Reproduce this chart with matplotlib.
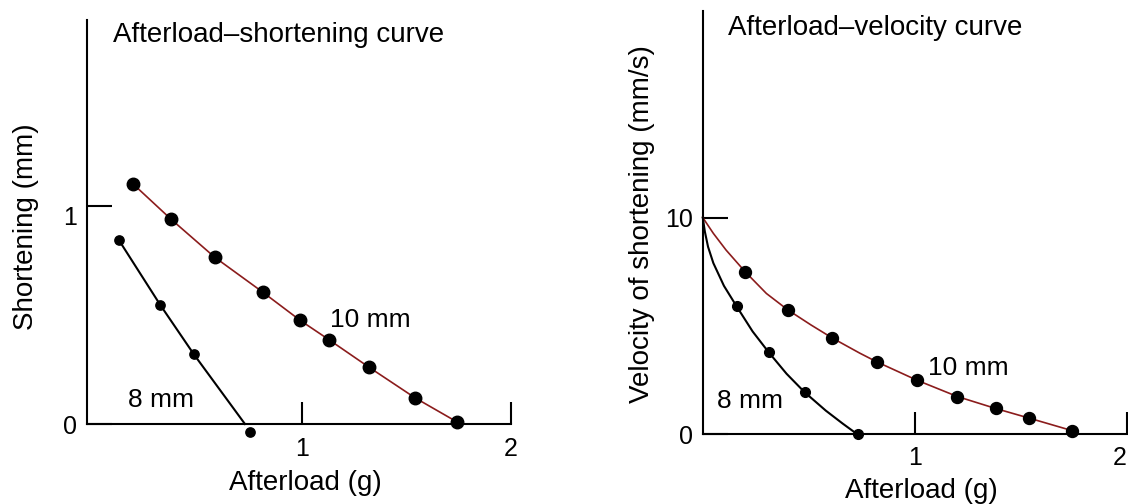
import matplotlib.pyplot as plt

plt.rcParams['font.family'] = ['Liberation Sans', 'DejaVu Sans']

# Afterload-shortening (left panel)
short_10_x = [0.19, 0.37, 0.58, 0.81, 0.99, 1.13, 1.32, 1.54, 1.74]
short_10_y = [1.10, 0.94, 0.765, 0.605, 0.475, 0.385, 0.26, 0.12, 0.01]
short_8_x = [0.12, 0.32, 0.48, 0.75]
short_8_y = [0.845, 0.545, 0.32, -0.035]
# the 8 mm line stops where it hits the axis, last dot sits a bit below it
short_8_line_x = [0.12, 0.32, 0.48, 0.725]
short_8_line_y = [0.845, 0.545, 0.32, 0.0]

# Afterload-velocity (right panel)
vel_10_x = [0.20, 0.40, 0.61, 0.82, 1.01, 1.20, 1.38, 1.54, 1.74]
vel_10_y = [7.5, 5.75, 4.45, 3.35, 2.5, 1.75, 1.2, 0.75, 0.18]
vel_8_x = [0.16, 0.31, 0.48, 0.73]
vel_8_y = [5.9, 3.8, 1.95, 0.0]
# curves, both start from Vmax = 10 mm/s
vel_10_curve_x = [0, 0.05, 0.11, 0.20, 0.30, 0.40, 0.51, 0.61, 0.74, 0.82,
                  1.01, 1.20, 1.38, 1.54, 1.74]
vel_10_curve_y = [10, 9.27, 8.5, 7.5, 6.5, 5.75, 5.05, 4.45, 3.75, 3.35,
                  2.5, 1.75, 1.2, 0.75, 0.18]
vel_8_curve_x = [0, 0.01, 0.025, 0.05, 0.10, 0.16, 0.235, 0.31, 0.395, 0.48, 0.58, 0.66, 0.73]
vel_8_curve_y = [10, 9.35, 8.65, 7.9, 6.85, 5.9, 4.75, 3.8, 2.8, 1.95, 1.1, 0.5, 0.0]

red = '#8b1c1c'

fig = plt.figure(figsize=(11.28, 5.04), dpi=100)
ax1 = fig.add_axes([0.0769, 0.1587, 0.3762, 0.8016])
ax2 = fig.add_axes([0.623, 0.1379, 0.3762, 0.8403])

for ax in (ax1, ax2):
    ax.spines['top'].set_visible(False)
    ax.spines['right'].set_visible(False)
    ax.spines['left'].set_linewidth(1.5)
    ax.spines['bottom'].set_linewidth(1.5)
    ax.tick_params(direction='in', width=1.5, labelsize=18, colors='black')
    ax.tick_params(axis='y', length=18, pad=7)
    ax.set_xticks([1, 2])

# Left panel
ax1.plot(short_10_x, short_10_y, color=red, lw=1.2, clip_on=False, zorder=3)
ax1.plot(short_10_x, short_10_y, 'o', color='black', ms=9, clip_on=False, zorder=4)
ax1.plot(short_8_line_x, short_8_line_y, color='black', lw=1.5, clip_on=False, zorder=3)
ax1.plot(short_8_x, short_8_y, 'o', color='black', ms=6.7, clip_on=False, zorder=4)

ax1.set_xlim(-0.033, 2)
ax1.set_ylim(0, 1.853)
ax1.set_yticks([0, 1])
ax1.tick_params(axis='x', length=16, pad=9.4)
ax1.yaxis.get_major_ticks()[1].label1.set_va('top')

ax1.text(0.062, 0.9455, 'Afterload–shortening curve', transform=ax1.transAxes,
         fontsize=20, va='baseline')
ax1.text(1.133, 0.446, '10 mm', fontsize=19, va='baseline')
ax1.text(0.165, 0.079, '8 mm', fontsize=19, va='baseline')

ax1.set_xlabel('Afterload (g)', fontsize=20)
ax1.xaxis.label.set_va('baseline')
ax1.xaxis.set_label_coords(0.5157, -0.163)
ax1.set_ylabel('Shortening (mm)', fontsize=20)
ax1.yaxis.label.set_va('baseline')
ax1.yaxis.set_label_coords(-0.1266, 0.489)

# Right panel
ax2.plot(vel_10_curve_x, vel_10_curve_y, color=red, lw=1.2, clip_on=False, zorder=3)
ax2.plot(vel_10_x, vel_10_y, 'o', color='black', ms=8.6, clip_on=False, zorder=4)
ax2.plot(vel_8_curve_x, vel_8_curve_y, color='black', lw=1.5, clip_on=False, zorder=3)
ax2.plot(vel_8_x, vel_8_y, 'o', color='black', ms=7, clip_on=False, zorder=4)

ax2.set_xlim(0, 2)
ax2.set_ylim(0, 19.52)
ax2.set_yticks([0, 10])
ax2.tick_params(axis='x', length=16, pad=8.3)
# "2" sits at the very edge of the figure, keep it inside
ax2.xaxis.get_major_ticks()[1].label1.set_ha('right')

ax2.text(0.0596, 0.9433, 'Afterload–velocity curve', transform=ax2.transAxes,
         fontsize=20, va='baseline')
ax2.text(1.062, 2.74, '10 mm', fontsize=19, va='baseline')
ax2.text(0.066, 1.21, '8 mm', fontsize=19, va='baseline')

ax2.set_xlabel('Afterload (g)', fontsize=20)
ax2.xaxis.label.set_va('baseline')
ax2.xaxis.set_label_coords(0.5145, -0.150)
ax2.set_ylabel('Velocity of shortening (mm/s)', fontsize=20)
ax2.yaxis.label.set_va('baseline')
ax2.yaxis.set_label_coords(-0.1266, 0.497)

fig.savefig('out.png', dpi=100)
